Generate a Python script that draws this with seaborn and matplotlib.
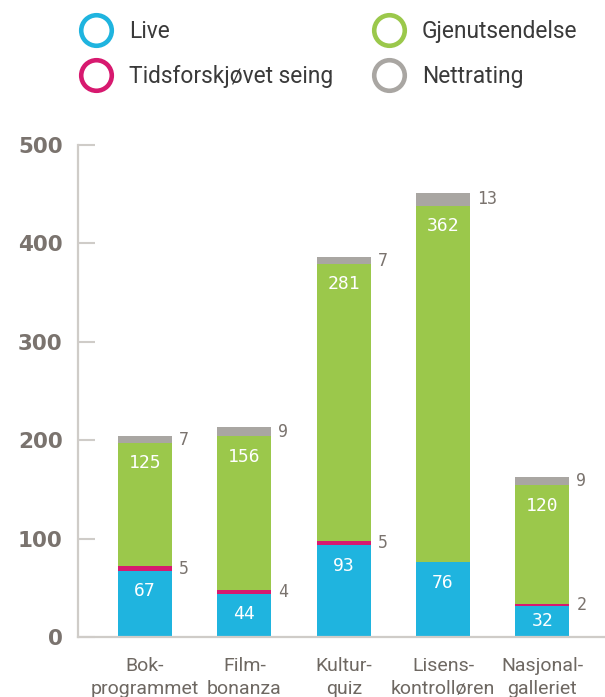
import matplotlib
matplotlib.use("Agg")
import matplotlib.pyplot as plt
import seaborn as sns
import pandas as pd
from matplotlib.lines import Line2D

# ---- data ----
categories = ["Bok-\nprogrammet", "Film-\nbonanza", "Kultur-\nquiz",
              "Lisens-\nkontrolløren", "Nasjonal-\ngalleriet"]
live = [67, 44, 93, 76, 32]
tidsforskjovet = [5, 4, 5, 0.5, 2]
gjenutsendelse = [125, 156, 281, 362, 120]
nettrating = [7, 9, 7, 13, 9]
series_names = ["Live", "Tidsforskjøvet seing", "Gjenutsendelse", "Nettrating"]
yticks = [0, 100, 200, 300, 400, 500]

colors = ["#1fb4df", "#d7196f", "#9bc84b", "#a9a6a2"]
axis_gray = "#cfccc8"
tick_text = "#7a736e"
label_gray = "#6e6862"

sns.set_theme(style="white")
plt.rcParams["font.family"] = ["Roboto", "DejaVu Sans"]

df = pd.DataFrame({"cat": categories, "Live": live,
                   "Tidsforskjøvet seing": tidsforskjovet,
                   "Gjenutsendelse": gjenutsendelse, "Nettrating": nettrating})
cum = df[series_names].cumsum(axis=1)
cum["cat"] = categories

fig = plt.figure(figsize=(6.05, 6.97), dpi=100)
ax = fig.add_axes([78 / 605, 60 / 697, 527 / 605, 492 / 697])

bar_w = 0.545
for name, color in reversed(list(zip(series_names, colors))):
    sns.barplot(data=cum, x="cat", y=name, order=categories, color=color,
                saturation=1, width=bar_w, errorbar=None, linewidth=0,
                edgecolor="none", ax=ax)

ax.set_xlim(-0.675, 4.63)
ax.set_ylim(0, 500)
ax.set_xlabel("")
ax.set_ylabel("")
ax.set_yticks(yticks, labels=[str(v) for v in yticks], fontweight="bold",
              family="DejaVu Sans")
ax.tick_params(axis="y", direction="in", length=12, width=1.5, color=axis_gray,
               pad=11, labelsize=15.5, labelcolor=tick_text, left=True)
ax.tick_params(axis="x", length=0, pad=14.5, labelsize=14, labelcolor=label_gray)
for t in ax.get_xticklabels():
    t.set_linespacing(1.32)

sns.despine(ax=ax, top=True, right=True)
for s in ("left", "bottom"):
    ax.spines[s].set_color(axis_gray)
    ax.spines[s].set_linewidth(1.6)

# ---- labels ----
px = 500 / 492.0  # data units per pixel
for i in range(len(categories)):
    v_live = live[i]
    ax.text(i, max(v_live - 20.3 * px, v_live / 2), f"{v_live}", ha="center",
            va="center", color="white", fontsize=13, family="DejaVu Sans Mono")
    top_g = cum["Gjenutsendelse"][i]
    ax.text(i, top_g - 20.3 * px, f"{gjenutsendelse[i]}", ha="center",
            va="center", color="white", fontsize=13, family="DejaVu Sans Mono")
    if tidsforskjovet[i] >= 1:
        yc = live[i] + tidsforskjovet[i] / 2
        ax.annotate(f"{tidsforskjovet[i]}", (i + bar_w / 2, yc), xytext=(5, 0),
                    textcoords="offset points", ha="left", va="center",
                    color=tick_text, fontsize=12, family="DejaVu Sans Mono")
    yc = top_g + nettrating[i] / 2
    ax.annotate(f"{nettrating[i]}", (i + bar_w / 2, yc), xytext=(5, 0),
                textcoords="offset points", ha="left", va="center",
                color=tick_text, fontsize=12, family="DejaVu Sans Mono")

# ---- legend ----
handles = [Line2D([], [], marker="o", linestyle="none", markersize=22,
                  markerfacecolor="none", markeredgecolor=c, markeredgewidth=3.3)
           for c in colors]
fig.legend(handles, series_names, ncol=2, loc="upper left",
           bbox_to_anchor=(80 / 605, 1 - 20 / 697), frameon=False,
           fontsize=16.4, handlelength=1.4, handletextpad=0.75,
           columnspacing=1.75, labelspacing=0.95, borderpad=0, borderaxespad=0,
           labelcolor="#3a3a3a")

fig.savefig("out.png", dpi=100)
